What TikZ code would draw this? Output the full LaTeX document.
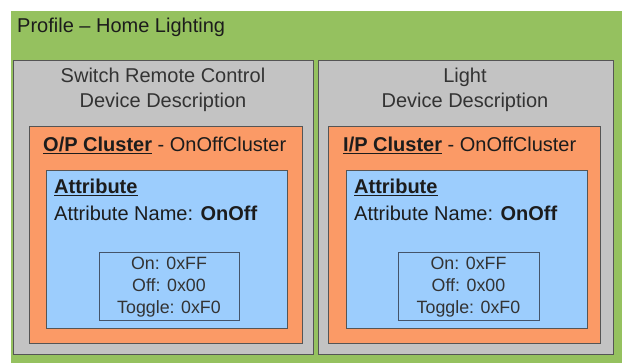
\documentclass[tikz,border=0pt]{standalone}
\usepackage{fontspec}
\setmainfont{Liberation Sans}
\definecolor{profilegreen}{HTML}{95C15F}
\definecolor{devgray}{HTML}{C3C3C3}
\definecolor{clusterorange}{HTML}{FB9A66}
\definecolor{attrblue}{HTML}{9CCDFD}
\definecolor{boxline}{HTML}{555555}
\definecolor{valline}{HTML}{44546A}
\definecolor{textdark}{HTML}{1C1C1C}
\definecolor{textgray}{HTML}{333333}
\tikzset{
    box/.style={anchor=north west, inner sep=0pt, line width=1.2pt, draw=boxline},
    bigtext/.style={font=\fontsize{20}{25}\selectfont, text=textdark, inner sep=0pt},
    valtext/.style={font=\fontsize{17.8}{22}\selectfont, text=textgray, align=center}
}
\begin{document}
\begin{tikzpicture}[x=1pt,y=-1pt]
    \useasboundingbox (0,0) rectangle (622,363);
    % profile
    \node[anchor=north west, inner sep=0pt, fill=profilegreen, minimum width=611, minimum height=352] (profile) at (11,11) {};
    \node[bigtext, anchor=west] (title) at (17,27) {Profile -- Home Lighting};
    % switch remote control
    \node[box, fill=devgray, minimum width=300, minimum height=294] (swdev) at (13,60) {};
    \node[bigtext, align=center, text=textgray] (swname) at (163,89.5) {Switch Remote Control\\Device Description};
    \node[box, fill=clusterorange, minimum width=273, minimum height=217] (swclus) at (29,126) {};
    \node[bigtext, anchor=west] (swclusname) at (43,145) {\underline{\textbf{O/P Cluster}} - OnOffCluster};
    \node[box, fill=attrblue, minimum width=241, minimum height=158] (swattr) at (46,170) {};
    \node[bigtext, anchor=west] (swattrhead) at (54,187) {\underline{\textbf{Attribute}}};
    \node[bigtext, anchor=west] (swattrname) at (54,213) {Attribute Name: \textbf{OnOff}};
    \node[valtext, draw=valline, line width=1pt, inner sep=0pt, minimum width=140, minimum height=68] (swvals) at (169,287) {On: 0xFF\\Off: 0x00\\Toggle: 0xF0};
    % light
    \node[box, fill=devgray, minimum width=295, minimum height=294] (lightdev) at (318,60) {};
    \node[bigtext, align=center, text=textgray] (lightname) at (465,89.5) {Light\\Device Description};
    \node[box, fill=clusterorange, minimum width=272, minimum height=217] (lightclus) at (328,126) {};
    \node[bigtext, anchor=west] (lightclusname) at (343,145) {\underline{\textbf{I/P Cluster}} - OnOffCluster};
    \node[box, fill=attrblue, minimum width=241, minimum height=158] (lightattr) at (346,170) {};
    \node[bigtext, anchor=west] (lightattrhead) at (354,187) {\underline{\textbf{Attribute}}};
    \node[bigtext, anchor=west] (lightattrname) at (354,213) {Attribute Name: \textbf{OnOff}};
    \node[valtext, draw=valline, line width=1pt, inner sep=0pt, minimum width=141, minimum height=68] (lightvals) at (468.5,287) {On: 0xFF\\Off: 0x00\\Toggle: 0xF0};
\end{tikzpicture}
\end{document}
